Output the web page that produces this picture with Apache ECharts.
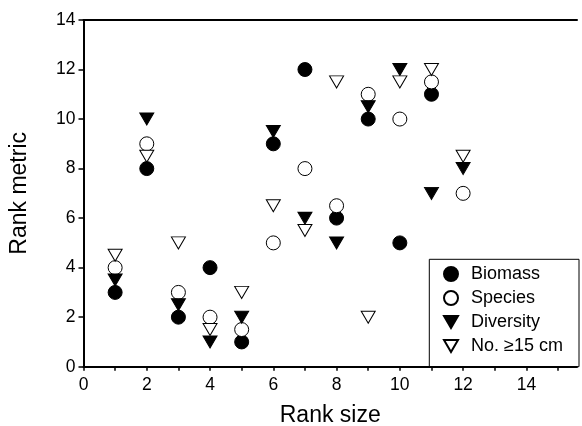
<!DOCTYPE html>
<html>
<head>
<meta charset="utf-8">
<script src="https://cdn.jsdelivr.net/npm/echarts@6/dist/echarts.min.js"></script>
<style>
    html, body { margin: 0; padding: 0; background: #fff; }
    #rankChart { width: 582px; height: 426px; }
</style>
</head>
<body>
<div id="rankChart"></div>
<script>
// 排名数据
var rankSize = [1, 2, 3, 4, 5, 6, 7, 8, 9, 10, 11, 12];
var biomass = [3, 8, 2, 4, 1, 9, 12, 6, 10, 5, 11];
var species = [4, 9, 3, 2, 1.5, 5, 8, 6.5, 11, 10, 11.5, 7];
var diversity = [3.5, 10, 2.5, 1, 2, 9.5, 6, 5, 10.5, 12, 7, 8];
var largeFish = [4.5, 8.5, 5, 1.5, 3, 6.5, 5.5, 11.5, 2, 11.5, 12, 8.5];
var xTicks = [0, 1, 2, 3, 4, 5, 6, 7, 8, 9, 10, 11, 12, 13, 14, 15];
var xLabels = [0, 2, 4, 6, 8, 10, 12, 14];

var triDown = 'path://M0,0 L10,0 L5,8.6 Z';

function pairs(vals) {
    var out = [];
    for (var i = 0; i < vals.length; i++) {
        out.push([rankSize[i], vals[i]]);
    }
    return out;
}

function showRankChart() {
    var rankChart = echarts.init(document.getElementById('rankChart'));
    var font = 'Liberation Sans, Arial, sans-serif';
    var option = {
        animation: false,
        backgroundColor: '#fff',
        grid: {
            left: 83.5,
            right: 5,
            top: 20,
            bottom: 59.3,
            outerBoundsMode: 'none',
            containLabel: false
        },
        legend: {
            orient: 'vertical',
            left: 429.3,
            top: 259.3,
            padding: [5.7, 8, 11.7, 13.7],
            itemGap: 6,
            itemWidth: 14,
            itemHeight: 14,
            borderColor: '#000',
            borderWidth: 1,
            textStyle: {
                color: '#000',
                fontFamily: font,
                fontSize: 18,
                lineHeight: 14,
                padding: [0, 0, 0, 8],
                width: 100
            },
            data: ['Biomass', 'Species', 'Diversity', 'No. ≥15 cm']
        },
        xAxis: [{
            type: 'value',
            min: 0,
            max: 15.6,
            splitLine: { show: false },
            axisLine: { lineStyle: { color: '#000', width: 2 } },
            axisTick: {
                length: 4,
                customValues: xTicks,
                lineStyle: { color: '#000', width: 1.5 }
            },
            axisLabel: {
                color: '#000',
                fontFamily: font,
                fontSize: 17.5,
                margin: 9,
                customValues: xLabels
            },
            name: 'Rank size',
            nameLocation: 'middle',
            nameGap: 37,
            nameTextStyle: { color: '#000', fontFamily: font, fontSize: 23 }
        }, {
            // 顶部边框
            type: 'value',
            position: 'top',
            min: 0,
            max: 15.6,
            splitLine: { show: false },
            axisLine: { lineStyle: { color: '#000', width: 2 } },
            axisTick: { show: false },
            axisLabel: { show: false }
        }],
        yAxis: {
            type: 'value',
            min: 0,
            max: 14,
            interval: 2,
            splitLine: { show: false },
            axisLine: { show: true, lineStyle: { color: '#000', width: 2 } },
            axisTick: { show: true, length: 5, lineStyle: { color: '#000', width: 1.5 } },
            axisLabel: {
                color: '#000',
                fontFamily: font,
                fontSize: 17.5,
                margin: 8
            },
            name: 'Rank metric',
            nameLocation: 'middle',
            nameGap: 52,
            nameTextStyle: { color: '#000', fontFamily: font, fontSize: 23 }
        },
        series: [{
            name: 'Biomass',
            type: 'scatter',
            symbol: 'circle',
            symbolSize: 14,
            itemStyle: { color: '#000', borderColor: '#000', borderWidth: 1, opacity: 1 },
            data: pairs(biomass)
        }, {
            name: 'Species',
            type: 'scatter',
            symbol: 'circle',
            symbolSize: 14,
            itemStyle: { color: '#fff', borderColor: '#000', borderWidth: 1, opacity: 1 },
            data: pairs(species)
        }, {
            name: 'Diversity',
            type: 'scatter',
            symbol: triDown,
            symbolSize: [14, 12],
            itemStyle: { color: '#000', borderColor: '#000', borderWidth: 1, opacity: 1 },
            data: pairs(diversity)
        }, {
            name: 'No. ≥15 cm',
            type: 'scatter',
            symbol: triDown,
            symbolSize: [14, 12],
            itemStyle: { color: '#fff', borderColor: '#000', borderWidth: 1, opacity: 1 },
            data: pairs(largeFish)
        }]
    };
    rankChart.setOption(option);
}

showRankChart();
</script>
</body>
</html>
